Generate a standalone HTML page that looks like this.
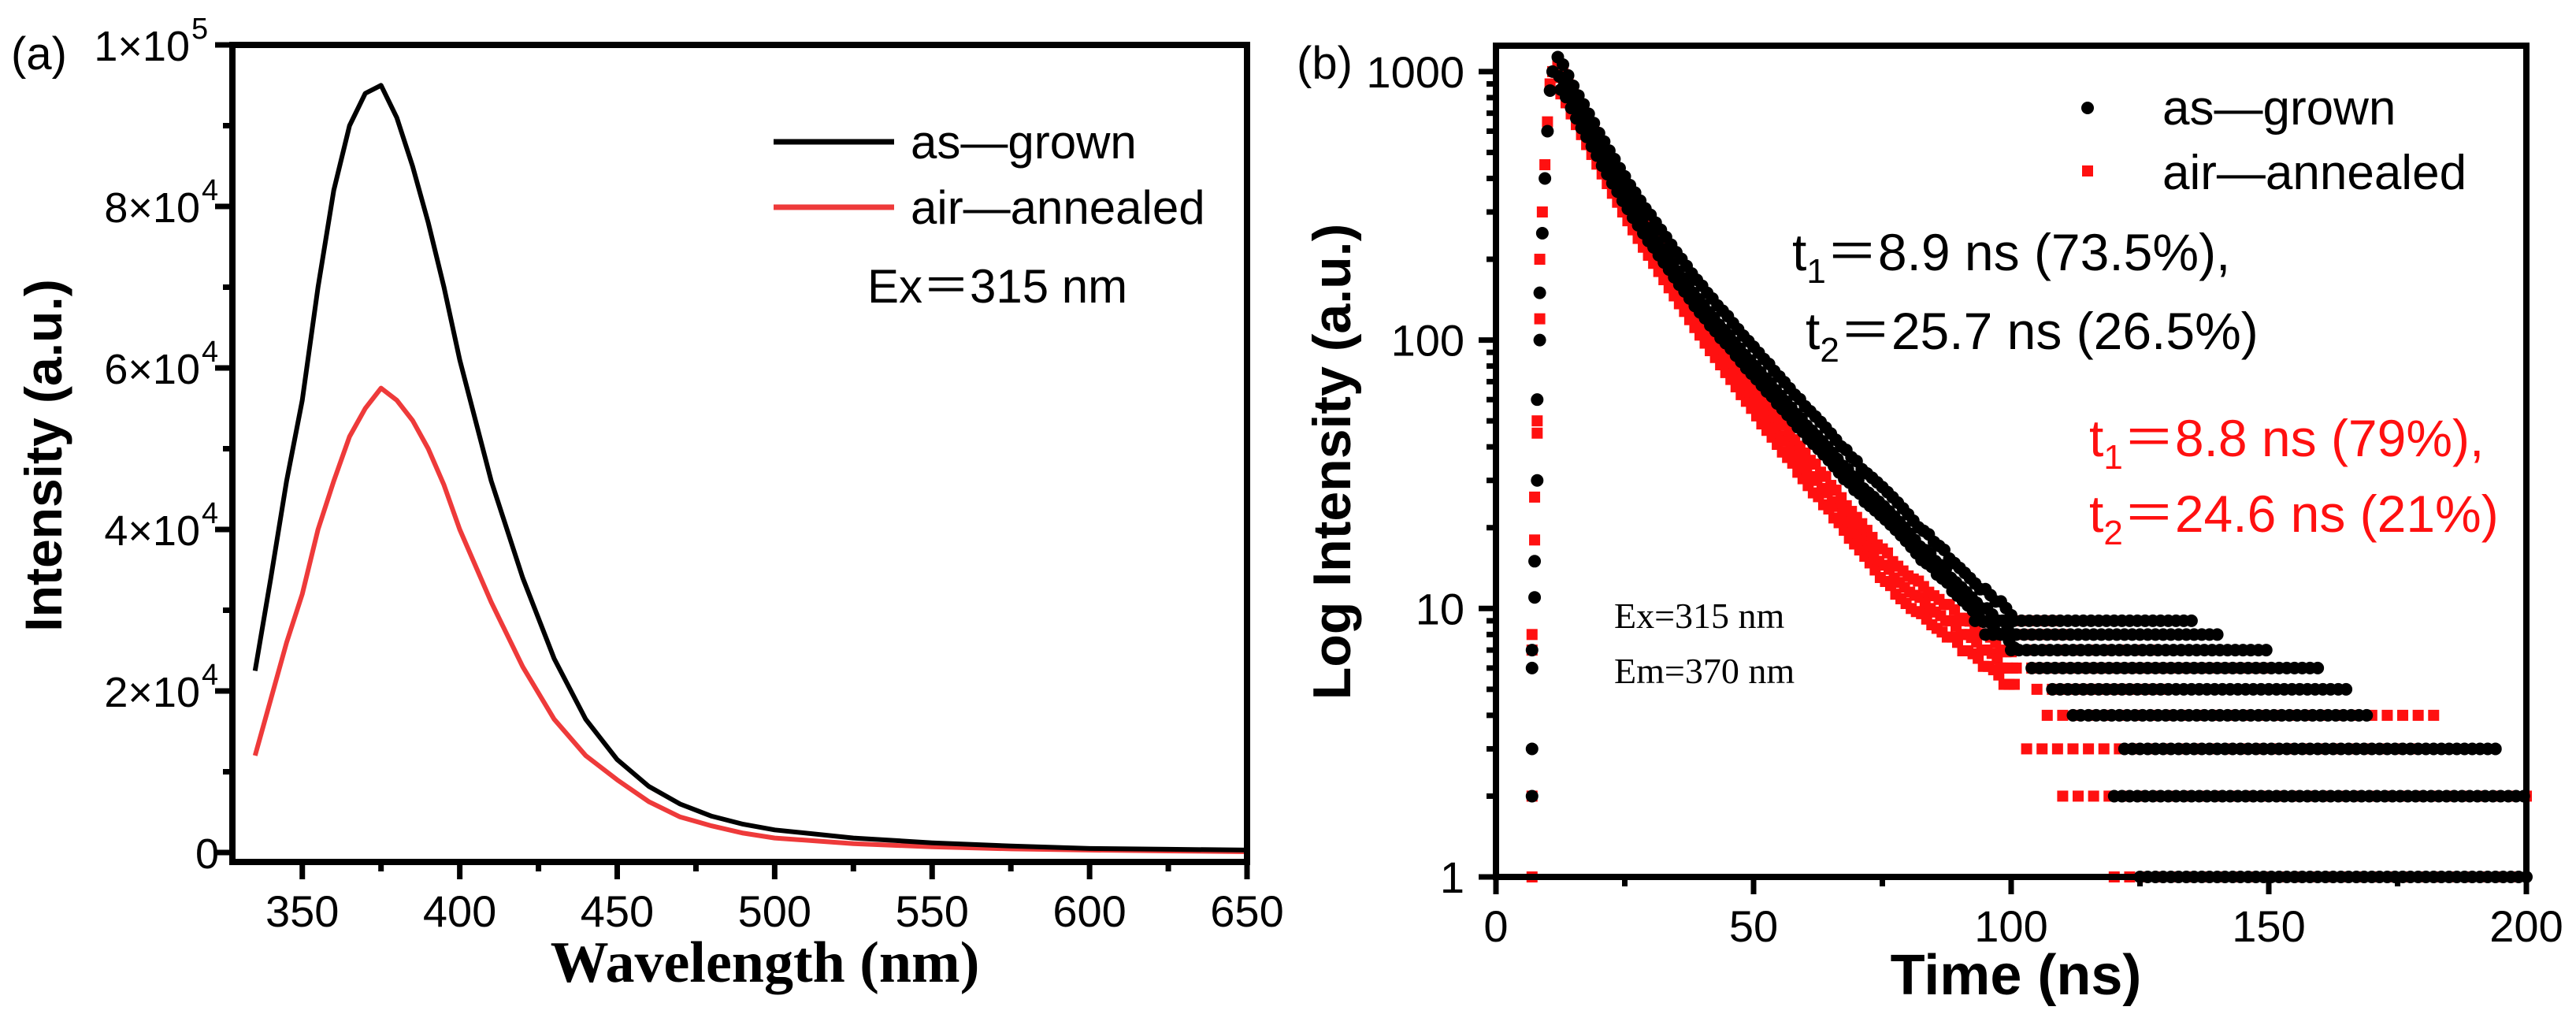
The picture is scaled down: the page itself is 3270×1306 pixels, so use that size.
<!DOCTYPE html>
<html><head><meta charset="utf-8">
<style>
html,body{margin:0;padding:0;background:#fff;}
svg{display:block;}
text{font-family:"Liberation Sans","Noto Sans CJK SC",sans-serif;}
</style></head>
<body>
<svg id="fig" width="3270" height="1306" viewBox="0 0 3270 1306" xmlns="http://www.w3.org/2000/svg">
<g id="pa"></g>
<g id="pb"></g>
</svg>
<script>
// ---------- Panel (a) data ----------
const waveX = [335,340,345,350,355,360,365,370,375,380,385,390,395,400,410,420,430,440,450,460,470,480,490,500,525,550,575,600,625,650];
const asGrownY = [22500,34000,46000,56000,70000,82000,90000,94000,95000,91000,85000,78000,70000,61000,46000,34000,24000,16500,11500,8200,6000,4500,3500,2800,1800,1200,800,500,400,300];
const annealedY = [12000,19000,26000,32000,40000,46000,51500,55000,57500,56000,53500,50000,45500,40000,31000,23000,16500,12000,9000,6300,4400,3300,2400,1800,1100,700,450,300,200,100];
const aXTicks = [350,400,450,500,550,600,650];
const aYTicks = [0,20000,40000,60000,80000,100000];
const aYLabels = ["0","2×10","4×10","6×10","8×10","1×10"];
const aYExp = ["","4","4","4","4","5"];

// ---------- Panel (b) data ----------
const bRiseT = [7,7,7,7,7.5,7.5,8,8,8.5,8.5,9,9.5,10,10.5,11];
const bRiseBlack = [2,3,6,7,11,15,30,60,100,150,250,400,600,850,1000];
const bRiseRed = [1,2,7,8,18,26,45,50,120,200,300,450,650,900,1000];
const decayT = [12,13,14,15,16,17,18,19,20,21,22,23,24,25,26,27,28,29,30,31,32,33,34,35,36,37,38,39,40,41,42,43,44,45,46,47,48,49,50,51,52,53,54,55,56,57,58,59,60,61,62,63,64,65,66,67,68,69,70,71,72,73,74,75,76,77,78,79,80,81,82,83,84,85,86,87,88,89,90,91,92,93,94,95,96,97,98,99,100];
const decayBlack = [960,900,820,750,690,640,590,545,500,465,430,400,370,345,320,300,280,262,248,232,218,205,192,180,170,160,150,142,135,127,121,114,109,104,98,93,88,84,80,76,72,69,65,62,59,56,53,51,48,46,44,42,40,38,36,34,33,31,30,28,27,26,25,24,23,22,21,20,19,18,17,16.5,16,15,14.5,14,13,12.5,12,11.5,11,10.5,10,10,9.5,9,9,8.5,8];
const decayRed = [950,880,800,730,670,615,565,520,478,440,405,375,345,320,296,275,255,238,222,207,193,180,168,157,147,137,128,120,112,105,99,93,87,82,77,72,68,64,60,56,53,50,47,44,42,40,37,35,33,31,30,28,27,25,24,22.5,21,20,19,18,17,16,15,14.5,14,13,12.5,12,11.5,11.2,11,10.5,10,9.7,9.4,9,9,8.6,8,8,7.8,7.5,7,7,6.8,6.5,6,6,6];
const tailLevels = [9,8,7,6,5,4,3,2,1];
const tailBlackStart = [93,95,100,104,108,112,122,120,125];
const tailBlackEnd = [135,140,150,160,166,170,194,200,200];
const tailRedStart = [90,92,95,98,105,107,103,110,120];
const tailRedEnd = [108,112,128,150,130,183,180,200,200];
const bXTicks = [0,50,100,150,200];
const bYTicks = [1,10,100,1000];

const NS = "http://www.w3.org/2000/svg";
function mk(parent, tag, attrs){const e=document.createElementNS(NS,tag);for(const k in attrs)e.setAttribute(k,attrs[k]);parent.appendChild(e);return e;}

// ---------- Panel (a) ----------
const pa = document.getElementById('pa');
const A = {l:295,r:1583,t:57,b:1094,x0:327.8,x1:650,y0:-1170,y1:100000};
const ax = v => A.l + (v-A.x0)/(A.x1-A.x0)*(A.r-A.l);
const ay = v => A.b - (v-A.y0)/(A.y1-A.y0)*(A.b-A.t);

function linePath(xs, ys, fx, fy){return xs.map((x,i)=>(i?'L':'M')+fx(x).toFixed(1)+' '+fy(ys[i]).toFixed(1)).join(' ');}
let p1 = mk(pa,'path',{d:linePath(waveX,annealedY,ax,ay),fill:'none',stroke:'#ee3a3a','stroke-width':6,'stroke-linejoin':'round'});


let p2 = mk(pa,'path',{d:linePath(waveX,asGrownY,ax,ay),fill:'none',stroke:'#000','stroke-width':6,'stroke-linejoin':'round'});



let fa = mk(pa,'rect',{x:A.l,y:A.t,width:A.r-A.l,height:A.b-A.t,fill:'none',stroke:'#000','stroke-width':8});


for(let v=325; v<=650; v+=25){
  if(v<A.x0) continue;
  const major = (v%50===0);
  mk(pa,'line',{x1:ax(v),x2:ax(v),y1:A.b,y2:A.b+(major?22:12),stroke:'#000','stroke-width':7});
}
aXTicks.forEach(v=>{
  const t = mk(pa,'text',{x:ax(v),y:A.b+82,'text-anchor':'middle','font-size':56});
  t.textContent = v;
  
  
});
for(let v=0; v<=100000; v+=10000){
  const major = (v%20000===0);
  mk(pa,'line',{x1:A.l,x2:A.l-(major?22:12),y1:ay(v),y2:ay(v),stroke:'#000','stroke-width':7});
}
aYTicks.forEach((v,i)=>{
  const t = mk(pa,'text',{x:(i===5?265:278)-(aYExp[i]?24:0),y:ay(v)+20,'text-anchor':'end','font-size':54});
  t.textContent = aYLabels[i];
  
  
  if(aYExp[i]){
    const e = mk(pa,'text',{x:(i===5?265:278)-22,y:ay(v)-8,'text-anchor':'start','font-size':38});
    e.textContent = aYExp[i];
    
    
  }
});
</script>
<script>
(function(){
const pa=document.getElementById('pa');
pa.insertAdjacentHTML('beforeend',`
<text x="14" y="88" font-size="58">(a)</text>
<text x="0" y="0" transform="translate(78,578) rotate(-90)" text-anchor="middle" font-size="66" font-weight="bold">Intensity (a.u.)</text>
<text x="971" y="1246" text-anchor="middle" font-size="74" font-weight="bold" style="font-family:'Liberation Serif',serif">Wavelength (nm)</text>
<g>
<line x1="982" y1="180" x2="1135" y2="180" stroke="#000" stroke-width="7"/>
<text x="1156" y="201" font-size="60">as—grown</text>
<line x1="982" y1="263" x2="1135" y2="263" stroke="#ee3a3a" stroke-width="7"/>
<text x="1156" y="284" font-size="60">air—annealed</text>
<text x="1101" y="384" font-size="60">Ex＝315 nm</text>
</g>`);
})();
</script>
<script>
// ---------- Panel (b) ----------
const pb = document.getElementById('pb');
const B = {l:1899,r:3207,t:58,b:1113,x0:0,x1:200,dec:340.7};
const bx = v => B.l + (v-B.x0)/(B.x1-B.x0)*(B.r-B.l);
const by = v => B.b - Math.log10(v)*B.dec;

function sq(x,y){const e=mk(pb,'rect',{x:x-7,y:y-7,width:14,height:14,fill:'#ff1010'});

}
function dot(x,y){const e=mk(pb,'circle',{cx:x,cy:y,r:8,fill:'#000'});

}

// red first (below)
bRiseT.forEach((t,i)=>sq(bx(t),by(bRiseRed[i])));
decayT.forEach((t,i)=>{sq(bx(t),by(decayRed[i]*1.15));sq(bx(t+0.3),by(decayRed[i]));sq(bx(t+0.6),by(decayRed[i]/1.15));});
tailLevels.forEach((lv,i)=>{for(let t=tailRedStart[i]; t<=tailRedEnd[i]; t+=3) sq(bx(t),by(lv));});
// black
bRiseT.forEach((t,i)=>dot(bx(t),by(bRiseBlack[i])));
decayT.forEach((t,i)=>{dot(bx(t),by(decayBlack[i]*1.18));dot(bx(t+0.3),by(decayBlack[i]));dot(bx(t+0.6),by(decayBlack[i]/1.12));});
tailLevels.forEach((lv,i)=>{for(let t=tailBlackStart[i]; t<=tailBlackEnd[i]; t+=1.5) dot(bx(t),by(lv));});

let fb = mk(pb,'rect',{x:B.l,y:B.t,width:B.r-B.l,height:B.b-B.t,fill:'none',stroke:'#000','stroke-width':8});


for(let v=0; v<=200; v+=25){
  const major=(v%50===0);
  mk(pb,'line',{x1:bx(v),x2:bx(v),y1:B.b,y2:B.b+(major?22:12),stroke:'#000','stroke-width':7});
}
bXTicks.forEach(v=>{
  const t=mk(pb,'text',{x:bx(v),y:B.b+82,'text-anchor':'middle','font-size':56});
  t.textContent=v;
  
  
});
for(let d=1; d<=100; d*=10){for(let m=1;m<=9;m++){const v=d*m;
  mk(pb,'line',{x1:B.l,x2:B.l-(m===1?22:12),y1:by(v),y2:by(v),stroke:'#000','stroke-width':7});}}
mk(pb,'line',{x1:B.l,x2:B.l-22,y1:by(1000),y2:by(1000),stroke:'#000','stroke-width':7});
bYTicks.forEach(v=>{
  const t=mk(pb,'text',{x:B.l-40,y:by(v)+20,'text-anchor':'end','font-size':56});
  t.textContent=v;
  
  
});
pb.insertAdjacentHTML('beforeend',`
<text x="1646" y="100" font-size="58">(b)</text>
<text x="0" y="0" transform="translate(1714,586) rotate(-90)" text-anchor="middle" font-size="68" font-weight="bold">Log Intensity (a.u.)</text>
<text x="2559" y="1262" text-anchor="middle" font-size="72" font-weight="bold">Time (ns)</text>
<g>
<circle cx="2650" cy="137" r="8" fill="#000"/>
<text x="2745" y="158" font-size="62">as—grown</text>
<rect x="2643" y="210" width="14" height="14" fill="#ff1010"/>
<text x="2745" y="240" font-size="62">air—annealed</text>
</g>
<text x="2275" y="343" font-size="66">t<tspan font-size="44" dy="16">1</tspan><tspan dy="-16">＝8.9 ns (73.5%),</tspan></text>
<text x="2292" y="443" font-size="66">t<tspan font-size="44" dy="16">2</tspan><tspan dy="-16">＝25.7 ns (26.5%)</tspan></text>
<text x="2652" y="579" font-size="66" fill="#ff1010">t<tspan font-size="44" dy="16">1</tspan><tspan dy="-16">＝8.8 ns (79%),</tspan></text>
<text x="2652" y="675" font-size="66" fill="#ff1010">t<tspan font-size="44" dy="16">2</tspan><tspan dy="-16">＝24.6 ns (21%)</tspan></text>
<text x="2049" y="797" font-size="46" style="font-family:'Liberation Serif',serif">Ex=315 nm</text>
<text x="2049" y="867" font-size="46" style="font-family:'Liberation Serif',serif">Em=370 nm</text>
`);
</script>
</body></html>
